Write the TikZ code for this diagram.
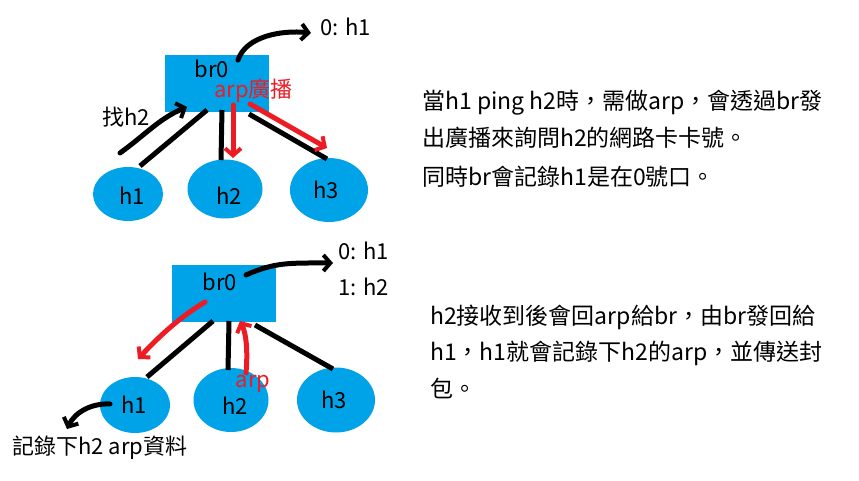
\documentclass[tikz,border=0pt]{standalone}
\usepackage{fontspec}
\setmainfont{Noto Sans CJK TC}
\usetikzlibrary{arrows.meta,shapes.geometric}
\definecolor{pblue}{RGB}{0,162,232}
\definecolor{pred}{RGB}{237,28,36}
\begin{document}
\begin{tikzpicture}[x=1pt,y=-1pt,
  box/.style={fill=pblue, draw=none, inner sep=0, minimum width=104pt, minimum height=57pt},
  host/.style={ellipse, fill=pblue, draw=none, inner sep=0},
  lbl/.style={font=\fontsize{22}{26}\selectfont, inner sep=0},
  lblw/.style={lbl, anchor=west},
  txt/.style={font=\fontsize{23}{27}\selectfont, inner sep=0, anchor=west},
  wire/.style={line width=5pt, black},
  blk/.style={line width=5pt, black, line cap=round, -{Straight Barb[length=7pt,width=16pt,line width=4pt]}},
  redarr/.style={line width=5pt, pred, line cap=round, -{Straight Barb[length=7pt,width=16pt,line width=4pt]}}
]
\useasboundingbox (0,0) rectangle (859,481);
\fill[white] (0,0) rectangle (859,481);

% ---------- top diagram ----------
\node[box] (brA) at (217,83.5) {};
\node[lbl] (brAt) at (212,69) {br0};
\node[host, minimum width=70pt, minimum height=54pt] (h1A) at (128,194) {};
\node[host, minimum width=75pt, minimum height=59pt] (h2A) at (225,189) {};
\node[host, minimum width=78pt, minimum height=64pt] (h3A) at (329,190) {};
\node[lbl] (h1At) at (132,196) {h1};
\node[lbl] (h2At) at (229,196) {h2};
\node[lbl] (h3At) at (326,190) {h3};
\node[lblw, text=pred] (arpA) at (214,91) {arp廣播};
\node[lblw] (tabA) at (320,27) {0: h1};
\node[lblw] (findA) at (102,117) {找h2};

\coordinate (a1) at (140,166); \coordinate (b1) at (207,110);
\coordinate (a2) at (221,160); \coordinate (b2) at (222,110);
\coordinate (a3) at (327,159); \coordinate (b3) at (249,114);
\draw[wire] (a1) -- (b1);
\draw[wire] (a2) -- (b2);
\draw[wire] (a3) -- (b3);

\coordinate (sA) at (238,60); \coordinate (eA) at (311,33);
\draw[blk] (sA) .. controls (246,36) and (282,30) .. (eA);
\coordinate (sF) at (120,153); \coordinate (eF) at (187,107);
\draw[blk] (sF) .. controls (145,135) and (160,118) .. (eF);

\coordinate (r1s) at (233,105); \coordinate (r1e) at (233,158);
\draw[redarr] (r1s) -- (r1e);
\coordinate (r2s) at (250,104); \coordinate (r2e) at (327,148);
\draw[redarr] (r2s) -- (r2e);

% ---------- bottom diagram ----------
\node[box] (brB) at (224,293) {};
\node[lbl] (brBt) at (220,282) {br0};
\node[host, minimum width=70pt, minimum height=56pt] (h1B) at (135,405) {};
\node[host, minimum width=75pt, minimum height=64pt] (h2B) at (231,400) {};
\node[host, minimum width=78pt, minimum height=65pt] (h3B) at (336,400) {};
\node[lbl] (h1Bt) at (134,405) {h1};
\node[lbl] (h2Bt) at (235,406) {h2};
\node[lbl] (h3Bt) at (334,400) {h3};
\node[lbl, text=pred] (arpB) at (253,384) {arp};
\node[lblw] (tabB1) at (338,251) {0: h1};
\node[lblw] (tabB2) at (338,287) {1: h2};
\node[lblw] (recB) at (12,448) {記錄下h2 arp資料};

\coordinate (c1) at (147,377); \coordinate (d1) at (213,321);
\coordinate (c2) at (228,370); \coordinate (d2) at (229,321);
\coordinate (c3) at (333,369); \coordinate (d3) at (255,325);
\draw[wire] (c1) -- (d1);
\draw[wire] (c2) -- (d2);
\draw[wire] (c3) -- (d3);

\coordinate (sB) at (246,275); \coordinate (eB) at (333,263);
\draw[blk] (sB) .. controls (275,262) and (290,263) .. (eB);
\coordinate (sR) at (110,404); \coordinate (eR) at (67,429);
\draw[blk] (sR) .. controls (92,403) and (75,412) .. (eR);

\coordinate (r3s) at (205,302); \coordinate (r3e) at (138,359);
\draw[redarr] (r3s) .. controls (185,314) and (165,330) .. (r3e);
\coordinate (r4s) at (246,373); \coordinate (r4e) at (240,321);
\draw[redarr] (r4s) .. controls (248,350) and (246,333) .. (r4e);

% ---------- explanations ----------
\node[txt] (p1a) at (422,103) {當h1 ping h2時，需做arp，會透過br發};
\node[txt] (p1b) at (422,138) {出廣播來詢問h2的網路卡卡號。};
\node[txt] (p1c) at (422,177) {同時br會記錄h1是在0號口。};
\node[txt] (p2a) at (430,317) {h2接收到後會回arp給br，由br發回給};
\node[txt] (p2b) at (430,353) {h1，h1就會記錄下h2的arp，並傳送封};
\node[txt] (p2c) at (430,388) {包。};
\end{tikzpicture}
\end{document}
